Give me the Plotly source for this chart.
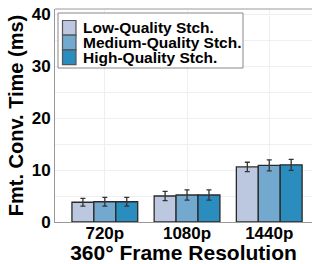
import plotly.graph_objects as go

categories = ["720p", "1080p", "1440p"]
series_names = ["Low-Quality Stch.", "Medium-Quality Stch.", "High-Quality Stch."]
low_vals = [3.8, 5.0, 10.6]
med_vals = [3.9, 5.2, 10.9]
high_vals = [3.9, 5.2, 11.0]
low_err = [0.75, 0.9, 0.9]
med_err = [0.85, 1.0, 1.05]
high_err = [0.85, 1.0, 1.05]
colors = ["#BCC8E0", "#74A9CF", "#2B8CBE"]

FONT = "Liberation Sans"
W, H = 312, 264
ML, MR, MT, MB = 55, 0, 9, 42
PW, PH = W - ML - MR, H - MT - MB


def px(x):
    return (x - ML) / PW


def py(y):
    return 1 - (y - MT) / PH


fig = go.Figure()
for name, vals, errs, col in zip(series_names, [low_vals, med_vals, high_vals],
                                 [low_err, med_err, high_err], colors):
    fig.add_trace(go.Bar(
        x=categories, y=vals, name=name, showlegend=False,
        marker=dict(color=col, line=dict(color="#2a2a2a", width=1.3)),
        error_y=dict(type="data", array=errs, color="#333333", thickness=1.3, width=2.5),
    ))

# manual legend (tight row spacing like the reference)
shapes = [
    dict(type="line", xref="paper", yref="paper", x0=0, x1=1, y0=1, y1=1,
         line=dict(color="#CCCCCC", width=2)),
    dict(type="rect", xref="paper", yref="paper", x0=px(58), x1=px(243), y0=py(13), y1=py(68),
         fillcolor="white", line=dict(color="#888888", width=1), layer="above"),
]
annotations = []
row_h = 14.7
top0 = 20.5
for i, (name, col) in enumerate(zip(series_names, colors)):
    y0 = top0 + i * row_h
    shapes.append(dict(type="rect", xref="paper", yref="paper",
                       x0=px(62.5), x1=px(76), y0=py(y0 + row_h), y1=py(y0),
                       fillcolor=col, line=dict(color="#555555", width=1.2), layer="above"))
    annotations.append(dict(xref="paper", yref="paper", x=px(80.5), y=py(y0 + row_h / 2),
                            xanchor="left", yanchor="middle", showarrow=False, text=name,
                            font=dict(family=FONT, size=15.5, weight="bold", color="black")))

fig.update_layout(
    width=W, height=H,
    margin=dict(l=ML, r=MR, t=MT, b=MB, autoexpand=False),
    paper_bgcolor="white", plot_bgcolor="white",
    barmode="group", bargap=0.2, bargroupgap=0,
    font=dict(family=FONT, color="black"),
    showlegend=False,
    xaxis=dict(
        range=[-0.606, 2.52], showgrid=True, gridcolor="#EFEFEF", gridwidth=1,
        showline=True, linecolor="#999999", linewidth=1,
        ticks="", tickfont=dict(family=FONT, size=17, weight="bold"),
        ticklabelstandoff=-4,
        automargin=False,
        title=dict(text="360° Frame Resolution", font=dict(family=FONT, size=21, weight="bold"), standoff=3),
    ),
    yaxis=dict(
        range=[0, 41], dtick=10, showgrid=True, gridcolor="#EFEFEF", gridwidth=1,
        minor=dict(dtick=5, showgrid=True, gridcolor="#EFEFEF"),
        showline=True, linecolor="#999999", linewidth=1, zeroline=False,
        ticks="", tickfont=dict(family=FONT, size=17, weight="bold"),
        automargin=False,
        title=dict(text="Fmt. Conv. Time (ms)", font=dict(family=FONT, size=20, weight="bold"), standoff=2),
    ),
    shapes=shapes,
    annotations=annotations,
)

fig.write_html("out.html", config={"displayModeBar": False},
               post_script="document.body.style.margin='0';document.body.style.padding='0';")
